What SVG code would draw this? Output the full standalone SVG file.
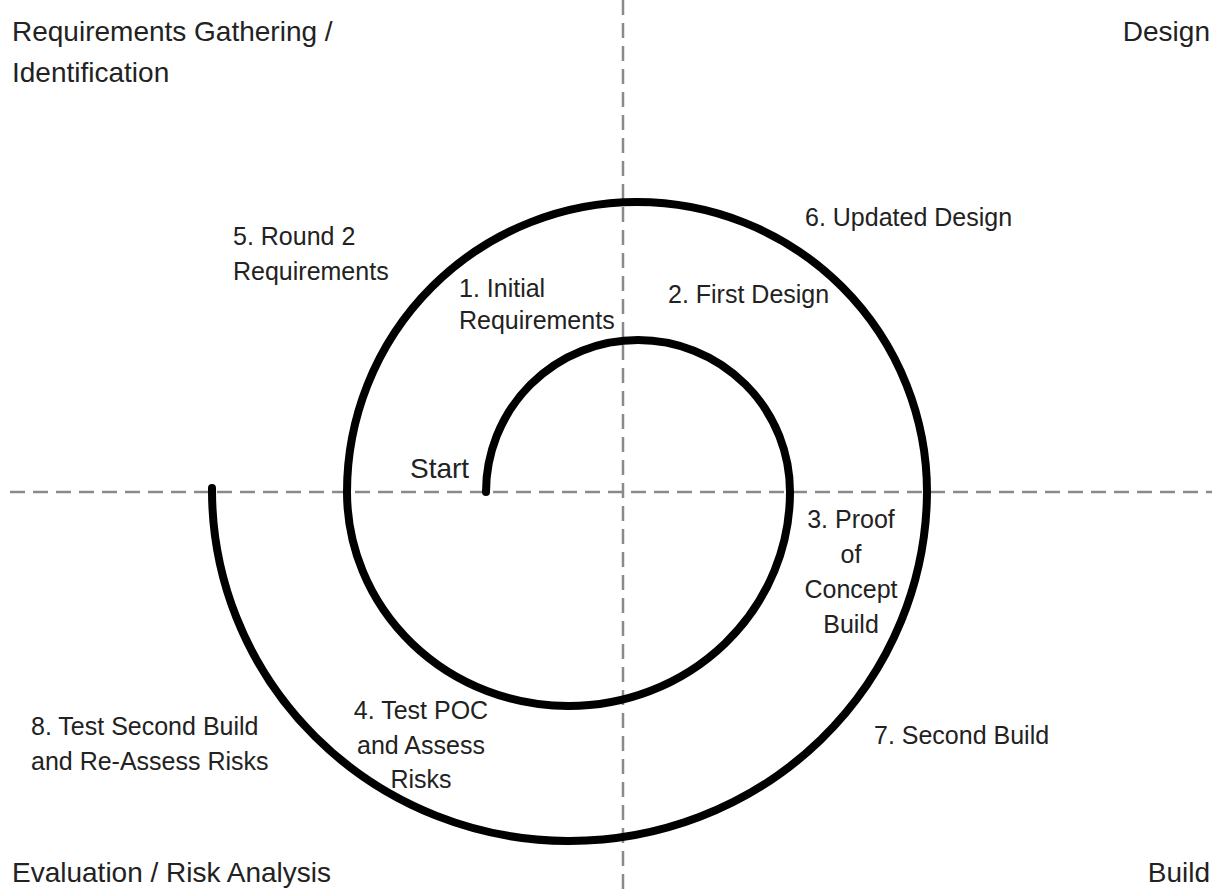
<svg xmlns="http://www.w3.org/2000/svg" width="1220" height="890" viewBox="0 0 1220 890">
<style>
.axis{stroke:#8a8a8a;stroke-width:2.5;stroke-dasharray:15 8;fill:none}
.spiral{stroke:#000;stroke-width:8;fill:none;stroke-linecap:round}
.h{font-family:"Liberation Sans",Arial,sans-serif;font-size:28px;fill:#222}
.l{font-family:"Liberation Sans",Arial,sans-serif;font-size:25px;fill:#222}
</style>
<rect width="1220" height="890" fill="#fff"/>
<g id="axes">
<line class="axis" x1="623" y1="0" x2="623" y2="890"/>
<line class="axis" x1="10" y1="492" x2="1212" y2="492"/>
</g>
<g id="connectors">
<path class="spiral" d="M 486 492 A 152 152 0 0 1 790 492 A 221.5 214 0 0 1 347 492 A 290 290 0 0 1 927 492 A 357.5 351 0 0 1 212 488"/>
</g>
<g id="quadrant-requirements"><text class="h" x="12" y="41">Requirements Gathering /</text><text class="h" x="12" y="82">Identification</text></g>
<g id="quadrant-design"><text class="h" x="1210" y="41" text-anchor="end">Design</text></g>
<g id="quadrant-evaluation"><text class="h" x="12" y="882">Evaluation / Risk Analysis</text></g>
<g id="quadrant-build"><text class="h" x="1210" y="882" text-anchor="end">Build</text></g>
<g id="start"><text class="h" x="410" y="478">Start</text></g>
<g id="step1"><text class="l" x="459" y="297">1. Initial</text><text class="l" x="459" y="329">Requirements</text></g>
<g id="step2"><text class="l" x="668" y="303">2. First Design</text></g>
<g id="step3"><text class="l" text-anchor="middle" x="851" y="528">3. Proof</text><text class="l" text-anchor="middle" x="851" y="563">of</text><text class="l" text-anchor="middle" x="851" y="598">Concept</text><text class="l" text-anchor="middle" x="851" y="633">Build</text></g>
<g id="step4"><text class="l" text-anchor="middle" x="421" y="719">4. Test POC</text><text class="l" text-anchor="middle" x="421" y="754">and Assess</text><text class="l" text-anchor="middle" x="421" y="788">Risks</text></g>
<g id="step5"><text class="l" x="233" y="245">5. Round 2</text><text class="l" x="233" y="280">Requirements</text></g>
<g id="step6"><text class="l" x="805" y="226">6. Updated Design</text></g>
<g id="step7"><text class="l" x="874" y="744">7. Second Build</text></g>
<g id="step8"><text class="l" x="31" y="735">8. Test Second Build</text><text class="l" x="31" y="770">and Re-Assess Risks</text></g>
</svg>
